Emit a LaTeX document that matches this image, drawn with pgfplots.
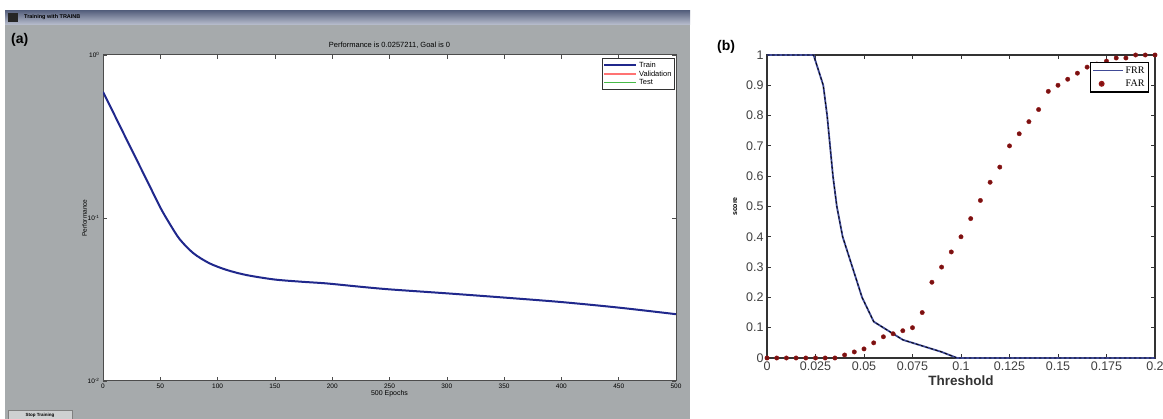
\documentclass[border=0pt]{standalone}
\usepackage{pgfplots}
\pgfplotsset{compat=1.18}
\usepackage{fontspec}
\setmainfont{Liberation Sans}
\newfontfamily\seriffont{Liberation Serif}

\definecolor{panelgray}{RGB}{166,170,172}
\definecolor{titlebar}{RGB}{104,116,150}
\definecolor{trainblue}{RGB}{32,40,140}
\definecolor{farred}{RGB}{150,22,22}
\definecolor{frrblue}{RGB}{64,74,150}

\pgfplotsset{longline legend/.style={legend image code/.code={\draw[##1, line width=0.8pt] (0pt,0pt) -- (30pt,0pt);}}}

% training performance, log scale
\pgfplotstableread{
ep perf
0 0.595
10 0.429
20 0.309
30 0.223
40 0.161
50 0.116
58 0.0927
67 0.074
79 0.0607
93 0.0527
108 0.048
125 0.0447
149 0.042
172 0.0407
195 0.0397
224 0.0379
250 0.0365
300 0.0345
350 0.0325
400 0.0305
450 0.0282
500 0.0257
}\trainperf

\pgfplotstableread{
t frr
0 1
0.024 1
0.029 0.9
0.031 0.8
0.034 0.6
0.036 0.5
0.039 0.4
0.044 0.3
0.049 0.2
0.055 0.12
0.060 0.10
0.065 0.08
0.070 0.06
0.075 0.05
0.080 0.04
0.085 0.03
0.090 0.02
0.098 0
0.2 0
}\frrdata

\pgfplotstableread{
t far
0 0
0.005 0
0.010 0
0.015 0
0.020 0
0.025 0
0.030 0
0.035 0
0.040 0.01
0.045 0.02
0.050 0.03
0.055 0.05
0.060 0.07
0.065 0.08
0.070 0.09
0.075 0.10
0.080 0.15
0.085 0.25
0.090 0.30
0.095 0.35
0.100 0.40
0.105 0.46
0.110 0.52
0.115 0.58
0.120 0.63
0.125 0.70
0.130 0.74
0.135 0.78
0.140 0.82
0.145 0.88
0.150 0.90
0.155 0.92
0.160 0.94
0.165 0.96
0.170 0.97
0.175 0.98
0.180 0.99
0.185 0.99
0.190 1.00
0.195 1.00
0.200 1.00
}\fardata

\begin{document}
\begin{tikzpicture}[x=1pt,y=1pt]
\useasboundingbox (0,0) rectangle (1163,419);
\fill[white] (0,0) rectangle (1163,419);

% window of panel (a)
\fill[panelgray] (5,0) rectangle (690,394);
\shade[top color=titlebar!85!black, bottom color=titlebar!45!white] (5,394) rectangle (690,408);
\fill[black!85] (8,397) rectangle (18,406);
\node[anchor=west, font=\bfseries\fontsize{5.5}{6}\selectfont, inner sep=0pt] at (24,401.5) {Training with TRAINB};
\draw[black!50, fill=panelgray!55!white] (8,-1) rectangle (72,9);
\node[font=\bfseries\fontsize{4.5}{5}\selectfont, inner sep=0pt] at (40,4) {Stop Training};

\node[anchor=west, font=\bfseries\fontsize{14}{16}\selectfont, inner sep=0pt] at (11,379) {(a)};
\node[anchor=west, font=\bfseries\fontsize{14}{16}\selectfont, inner sep=0pt] at (717,372) {(b)};

\begin{axis}[
  at={(103pt,38pt)}, anchor=south west,
  width=573pt, height=326pt, scale only axis,
  ymode=log, xmin=0, xmax=500, ymin=0.01, ymax=1,
  axis background/.style={fill=white},
  axis line style={black!70, line width=1pt},
  xtick={0,50,...,500},
  ytick={1,0.1,0.01},
  yticklabels={10\textsuperscript{0},10\textsuperscript{-1},10\textsuperscript{-2}},
  tick style={black!70, line width=0.6pt},
  major tick length=4pt, minor tick length=2.5pt,
  tick align=inside,
  tick label style={font=\fontsize{6.5}{7}\selectfont},
  /pgf/number format/assume math mode=true,
  xticklabel style={yshift=1pt},
  title={Performance is 0.0257211, Goal is 0},
  title style={font=\fontsize{7.5}{8}\selectfont, yshift=-3pt},
  xlabel={500 Epochs}, ylabel={Performance},
  xlabel style={font=\fontsize{7}{8}\selectfont, yshift=5pt},
  ylabel style={font=\fontsize{6.5}{7}\selectfont, yshift=-6pt},
  legend style={at={(rel axis cs:0.998,0.99)}, anchor=north east,
    font=\fontsize{7.5}{8}\selectfont, draw=black!80, line width=0.8pt,
    inner sep=1pt, row sep=-2pt, fill=white},
  legend cell align=left,
  legend image code/.code={\draw[#1] (0pt,0pt) -- (32pt,0pt);},
]
\addplot[trainblue, line width=2pt, smooth] table[x=ep, y=perf] {\trainperf};
\addlegendentry{Train}
\addlegendimage{red!55!white, line width=1.2pt}
\addlegendentry{Validation}
\addlegendimage{green!45!gray, line width=1.2pt}
\addlegendentry{Test}
\end{axis}

\begin{axis}[
  at={(767pt,61pt)}, anchor=south west,
  width=388pt, height=303pt, scale only axis,
  xmin=0, xmax=0.2, ymin=0, ymax=1,
  axis line style={black!80, line width=1.2pt},
  xtick={0,0.025,...,0.2},
  ytick={0,0.1,...,1},
  xticklabels={0,0.025,0.05,0.075,0.1,0.125,0.15,0.175,0.2},
  yticklabels={0,0.1,0.2,0.3,0.4,0.5,0.6,0.7,0.8,0.9,1},
  tick style={black!80, line width=1pt},
  major tick length=4pt, tick align=inside,
  tick label style={font=\fontsize{12.5}{13}\selectfont, text=black!75},
  /pgf/number format/assume math mode=true,
  xlabel={Threshold}, ylabel={score},
  xlabel style={font=\bfseries\fontsize{13.5}{15}\selectfont, text=black!80, yshift=2pt},
  ylabel style={font=\bfseries\fontsize{7}{8}\selectfont, yshift=2pt},
  legend style={at={(rel axis cs:0.985,0.977)}, anchor=north east,
    font=\seriffont\fontsize{10}{11}\selectfont, draw=black, line width=1.5pt,
    inner sep=2pt, row sep=1pt, fill=white},
  legend cell align=right,
  clip=false,
]
\addplot[frrblue, line width=1.8pt, longline legend] table[x=t, y=frr] {\frrdata};
\addlegendentry{FRR}
\addplot[farred, only marks, mark=*, mark size=2.2pt, mark options={fill=farred!80!black}] table[x=t, y=far] {\fardata};
\addlegendentry{FAR}
\addplot[black, line width=0.8pt, dash pattern=on 2.5pt off 2.5pt, forget plot] table[x=t, y=frr] {\frrdata};
\end{axis}
\end{tikzpicture}
\end{document}
